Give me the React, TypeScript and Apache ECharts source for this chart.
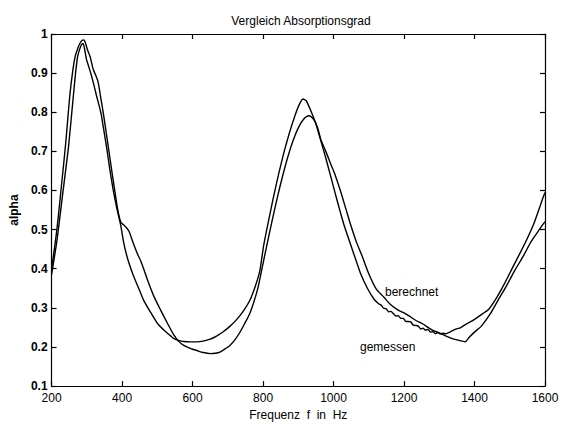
import React, { useEffect, useRef } from "react";
import * as echarts from "echarts";

// berechnet (computed)
const freqBerechnet = [200,215,230,240,252,260,267,275,281,287,291,295,300,305,309,314,318,325,332,339,346,353,361,370,380,390,397,405,412,420,428,434,445,453,465,476,490,509,528,546,560,575,595,612,630,650,665,678,692,706,720,734,748,763,775,786,798,811,825,840,855,870,885,900,915,930,945,955,964,978,992,1006,1020,1035,1049,1065,1080,1100,1120,1143,1160,1180,1200,1213,1235,1251,1279,1300,1316,1335,1350,1365,1373,1385,1400,1420,1445,1467,1490,1514,1540,1561,1580,1593,1600];
const alphaBerechnet = [0.40,0.50,0.63,0.72,0.845,0.905,0.943,0.965,0.977,0.984,0.985,0.98,0.965,0.952,0.943,0.925,0.91,0.895,0.877,0.84,0.802,0.76,0.711,0.655,0.595,0.54,0.518,0.512,0.505,0.495,0.475,0.46,0.435,0.42,0.39,0.362,0.33,0.295,0.262,0.232,0.215,0.204,0.196,0.191,0.186,0.183,0.184,0.187,0.195,0.204,0.218,0.237,0.26,0.287,0.318,0.353,0.405,0.461,0.52,0.58,0.635,0.685,0.727,0.76,0.782,0.791,0.78,0.76,0.73,0.70,0.668,0.636,0.598,0.553,0.511,0.468,0.435,0.387,0.35,0.327,0.31,0.296,0.287,0.28,0.267,0.26,0.244,0.236,0.229,0.222,0.218,0.215,0.213,0.225,0.238,0.254,0.285,0.32,0.355,0.395,0.435,0.47,0.495,0.512,0.52];

// gemessen (measured)
const freqGemessen = [200,215,230,248,262,268,274,280,285,290,294,299,306,313,320,327,334,341,348,356,365,375,385,396,405,415,425,434,448,462,480,499,520,537,546,560,575,595,612,630,650,668,687,705,725,745,763,778,791,802,815,830,845,860,875,890,903,913,922,935,950,964,978,992,1010,1030,1053,1077,1096,1115,1129,1135,1142,1149,1156,1163,1170,1177,1184,1191,1198,1205,1212,1219,1226,1233,1240,1247,1254,1261,1268,1275,1282,1289,1296,1303,1310,1318,1330,1345,1360,1375,1392,1415,1439,1462,1485,1508,1532,1550,1570,1593,1600];
const alphaGemessen = [0.385,0.47,0.58,0.711,0.844,0.9,0.943,0.962,0.973,0.975,0.96,0.935,0.915,0.894,0.87,0.844,0.82,0.794,0.755,0.711,0.655,0.6,0.555,0.512,0.465,0.428,0.4,0.378,0.348,0.318,0.29,0.262,0.242,0.229,0.222,0.217,0.214,0.213,0.213,0.215,0.22,0.228,0.239,0.252,0.27,0.293,0.32,0.355,0.395,0.461,0.52,0.585,0.645,0.70,0.748,0.79,0.82,0.834,0.83,0.805,0.77,0.727,0.683,0.636,0.575,0.511,0.45,0.387,0.35,0.322,0.31,0.307,0.299,0.298,0.290,0.291,0.285,0.279,0.280,0.273,0.273,0.265,0.265,0.264,0.256,0.255,0.254,0.246,0.248,0.243,0.245,0.238,0.239,0.234,0.237,0.233,0.235,0.234,0.238,0.245,0.249,0.258,0.266,0.28,0.295,0.325,0.362,0.403,0.445,0.478,0.519,0.578,0.595];

const xTicks = [200, 1600, 200]; // min, max, interval
const yTicks = [0.1, 1, 0.1];

const FONT = "Liberation Sans";

export default function App() {
  const ref = useRef<HTMLDivElement>(null);
  useEffect(() => {
    document.body.style.margin = "0";
    const chart = echarts.init(ref.current!, null, { renderer: "svg" });
    const zip = (a: number[], b: number[]) => a.map((f, i) => [f, b[i]]);
    const axisLine = { show: true, lineStyle: { color: "#000", width: 1.2 } };
    const tick = { show: true, inside: true, length: 5, lineStyle: { color: "#000", width: 1.2 } };
    chart.setOption({
      animation: false,
      backgroundColor: "#fff",
      title: {
        text: "Vergleich Absorptionsgrad",
        left: 296,
        top: 10,
        textAlign: "center",
        textStyle: { fontFamily: FONT, fontSize: 12, fontWeight: "normal", color: "#000" },
      },
      grid: { left: 47, top: 34, width: 498, height: 361 },
      xAxis: [
        {
          type: "value",
          min: xTicks[0],
          max: xTicks[1],
          interval: xTicks[2],
          position: "bottom",
          axisLine,
          axisTick: tick,
          splitLine: { show: false },
          axisLabel: {
            color: "#000",
            fontFamily: FONT,
            fontSize: 12,
            margin: 6,
            formatter: (v: number) => String(v),
          },
          name: "Frequenz  f  in  Hz",
          nameLocation: "middle",
          nameGap: 22,
          nameTextStyle: { color: "#000", fontFamily: FONT, fontSize: 12 },
        },
        {
          type: "value",
          min: xTicks[0],
          max: xTicks[1],
          interval: xTicks[2],
          position: "top",
          axisLine,
          axisTick: tick,
          splitLine: { show: false },
          axisLabel: { show: false },
        },
      ],
      yAxis: [
        {
          type: "value",
          min: yTicks[0],
          max: yTicks[1],
          interval: yTicks[2],
          position: "left",
          axisLine,
          axisTick: tick,
          splitLine: { show: false },
          axisLabel: {
            color: "#000",
            fontFamily: FONT,
            fontSize: 12,
            fontWeight: "bold",
            margin: 4,
            formatter: (v: number) => String(Math.round(v * 10) / 10),
          },
          name: "alpha",
          nameLocation: "middle",
          nameGap: 24,
          nameTextStyle: { color: "#000", fontFamily: FONT, fontSize: 12, fontWeight: "bold" },
        },
        {
          type: "value",
          min: yTicks[0],
          max: yTicks[1],
          interval: yTicks[2],
          position: "right",
          axisLine,
          axisTick: tick,
          splitLine: { show: false },
          axisLabel: { show: false },
        },
      ],
      series: [
        {
          name: "berechnet",
          type: "line",
          xAxisIndex: 0,
          yAxisIndex: 0,
          data: zip(freqBerechnet, alphaBerechnet),
          showSymbol: false,
          smooth: 0.3,
          lineStyle: { color: "#000", width: 1.4 },
        },
        {
          name: "gemessen",
          type: "line",
          xAxisIndex: 0,
          yAxisIndex: 0,
          data: zip(freqGemessen, alphaGemessen),
          showSymbol: false,
          smooth: 0.15,
          lineStyle: { color: "#000", width: 1.4 },
        },
      ],
      graphic: [
        {
          type: "text",
          left: 385,
          top: 286,
          style: { text: "berechnet", fontFamily: FONT, fontSize: 12, fill: "#000" },
        },
        {
          type: "text",
          left: 360,
          top: 341,
          style: { text: "gemessen", fontFamily: FONT, fontSize: 12, fill: "#000" },
        },
      ],
    });
    return () => chart.dispose();
  }, []);
  return <div ref={ref} style={{ width: 570, height: 426 }} />;
}
